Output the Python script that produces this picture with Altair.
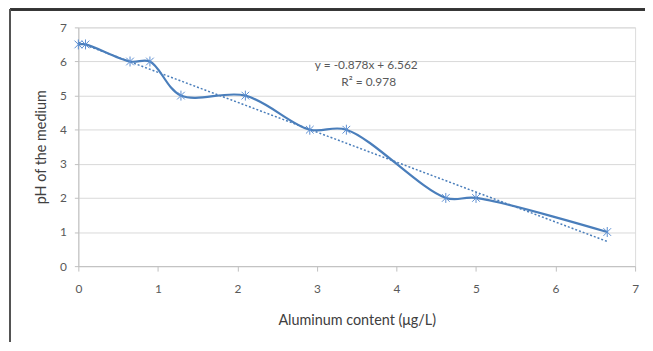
import altair as alt
import pandas as pd

x_vals = [0.0, 0.09, 0.65, 0.9, 1.29, 2.1, 2.91, 3.37, 4.62, 5.0, 6.65]
ph_vals = [6.5, 6.5, 6.0, 6.0, 5.0, 5.0, 4.0, 4.0, 2.0, 2.0, 1.0]
slope, intercept = -0.878, 6.562
trend_x = [0.0, 6.65]
eq_lines = ["y = -0.878x  + 6.562", "R\u00b2 = 0.978"]
eq_x = [3.62, 3.65]
eq_y = [5.9, 5.4]
ticks = [0, 1, 2, 3, 4, 5, 6, 7]

df = pd.DataFrame({"x": x_vals, "y": ph_vals})
tdf = pd.DataFrame({"x": trend_x, "y": [slope * v + intercept for v in trend_x]})
edf = pd.DataFrame({"t": eq_lines, "x": eq_x, "y": eq_y})

W, H = 562, 241
FONT = "Lato"
BLUE = "#4A7EBB"

xs = alt.Scale(domain=[0, 7], nice=False, zero=False)
ys = alt.Scale(domain=[0, 7], nice=False)

xax = alt.Axis(values=ticks, format="d", grid=False, domainColor="#BFBFBF",
               tickColor="#BFBFBF", tickSize=5, labelColor="#595959", labelFontSize=12,
               labelPadding=13, labelFlush=False, title="Aluminum content (\u03bcg/L)",
               titleFontSize=14.5, titleFontWeight="normal", titleColor="#404040",
               titlePadding=19, labelFont=FONT, titleFont=FONT)
yax = alt.Axis(values=ticks, format="d", grid=True, gridColor="#D9D9D9",
               domainColor="#BFBFBF", tickColor="#BFBFBF", tickSize=4, labelColor="#595959",
               labelFontSize=12, labelPadding=8, labelFlush=False, title="pH of the medium",
               titleFontSize=14.5, titleFontWeight="normal", titleColor="#404040",
               titlePadding=11, labelFont=FONT, titleFont=FONT)

X = alt.X("x:Q", scale=xs, axis=xax)
Y = alt.Y("y:Q", scale=ys, axis=yax)

line = alt.Chart(df).mark_line(interpolate="catmull-rom", color=BLUE, strokeWidth=2.2).encode(
    x=X, y=Y)

star = "M-1,-1L1,1M-1,1L1,-1M0,-1.3L0,1.3"
pts = alt.Chart(df).mark_point(shape=star, size=60, filled=False, color="#5B8ED0",
                               strokeWidth=1, opacity=1).encode(x=X, y=Y)

trend = alt.Chart(tdf).mark_line(color=BLUE, strokeWidth=1.5, strokeDash=[2, 2]).encode(
    x=X, y=Y)

eq = alt.Chart(edf).mark_text(font=FONT, fontSize=12, color="#595959").encode(
    x=X, y=Y, text="t:N")

border_top = alt.Chart(df).mark_rule(color="#333333", strokeWidth=1.5).encode(
    x=alt.value(-69), x2=alt.value(600), y=alt.value(-18))
border_left = alt.Chart(df).mark_rule(color="#555555", strokeWidth=1.5).encode(
    x=alt.value(-69), y=alt.value(-18), y2=alt.value(325))
border_bot = alt.Chart(df).mark_rule(color="#D0D0D0", strokeWidth=1).encode(
    x=alt.value(-69), x2=alt.value(600), y=alt.value(324))

chart = alt.layer(trend, line, pts, eq, border_top, border_left, border_bot).properties(
    width=W, height=H,
    autosize=alt.AutoSizeParams(type="none"),
    padding={"left": 71, "top": 18, "right": 10, "bottom": 75},
).configure_view(stroke=None).configure(background="white")

chart.save("out.html", embed_options={"renderer": "svg", "actions": False})
